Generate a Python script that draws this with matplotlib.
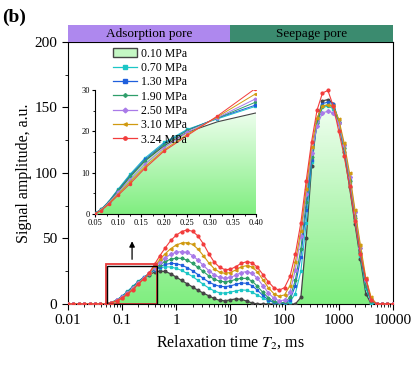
import numpy as np
import matplotlib
matplotlib.use("Agg")
import matplotlib.pyplot as plt
from matplotlib.patches import Rectangle, Patch
from matplotlib.lines import Line2D
from matplotlib.transforms import blended_transform_factory
from matplotlib.colors import LinearSegmentedColormap

plt.rcParams['font.family'] = ['Liberation Serif', 'DejaVu Serif']
plt.rcParams['mathtext.fontset'] = 'stix'

# T2 grid, ms (10 points per decade)
t2 = [0.01, 0.0126, 0.0158, 0.02, 0.0251, 0.0316, 0.0398, 0.0501, 0.0631, 0.0794,
      0.1, 0.126, 0.158, 0.2, 0.251, 0.316, 0.398, 0.501, 0.631, 0.794,
      1, 1.26, 1.58, 2.0, 2.51, 3.16, 3.98, 5.01, 6.31, 7.94,
      10, 12.6, 15.8, 20, 25.1, 31.6, 39.8, 50.1, 63.1, 79.4,
      100, 126, 158, 200, 251, 316, 398, 501, 631, 794,
      1000, 1259, 1585, 1995, 2512, 3162, 3981, 5012, 6310, 7943, 10000]

p010 = [0, 0, 0, 0, 0, 0, 0, 0.2, 1.0, 2.8,
        5.5, 9.0, 12.8, 16.5, 19.8, 22.3, 24.4, 25.1, 24.8, 23.0,
        20.5, 18.0, 15.5, 13.0, 10.5, 8.3, 6.3, 4.2, 2.8, 2.4,
        3.2, 3.9, 3.6, 2.2, 0.8, 0, 0, 0, 0, 0,
        0, 0, 0, 5, 50, 105, 140, 155, 156, 153,
        138, 116, 89, 61, 34, 8, 0, 0, 0, 0, 0]
p070 = [0, 0, 0, 0, 0, 0, 0, 0.2, 1.1, 3.0,
        6.0, 9.6, 13.5, 17.3, 20.5, 23.0, 26.0, 27.6, 28.4, 28.2,
        27.2, 25.6, 23.4, 21.0, 18.0, 15.0, 12.2, 10.0, 8.5, 8.3,
        9.0, 10.0, 10.7, 10.5, 9.0, 6.8, 4.5, 2.5, 1.2, 0.6,
        0.5, 1.5, 8, 25, 62, 108, 138, 150, 151, 149,
        138, 118, 92, 64, 37, 12, 1, 0, 0, 0, 0]
p130 = [0, 0, 0, 0, 0, 0, 0, 0.2, 1.1, 2.9,
        5.8, 9.3, 13.2, 17.0, 20.3, 23.2, 26.3, 28.6, 30.2, 31.0,
        30.8, 29.6, 27.8, 25.3, 22.5, 19.5, 16.8, 14.8, 13.5, 13.2,
        13.8, 15.0, 16.0, 15.8, 14.0, 10.5, 6.5, 3.3, 1.3, 0.5,
        0.6, 3, 14, 36, 72, 110, 139, 153, 154, 153,
        140, 120, 95, 67, 40, 14, 2, 0, 0, 0, 0]
p190 = [0, 0, 0, 0, 0, 0, 0, 0.2, 1.1, 2.9,
        5.7, 9.1, 12.9, 16.8, 20.2, 23.2, 27.0, 30.0, 32.5, 34.2,
        35.0, 34.8, 33.5, 31.0, 28.0, 24.8, 21.5, 19.0, 17.4, 17.0,
        17.6, 18.8, 19.6, 19.5, 17.5, 13.5, 8.8, 4.8, 2.2, 1.0,
        1.2, 5, 18, 42, 78, 112, 138, 151, 152, 151,
        139, 119, 94, 66, 39, 14, 2, 0, 0, 0, 0]
p250 = [0, 0, 0, 0, 0, 0, 0, 0.1, 1.0, 2.7,
        5.2, 8.3, 12.0, 16.0, 19.8, 23.3, 27.8, 31.8, 35.3, 38.0,
        39.5, 40.0, 39.3, 37.0, 33.5, 29.5, 25.5, 22.3, 20.3, 19.6,
        20.3, 22.0, 24.0, 24.7, 23.5, 19.5, 14.0, 8.5, 4.5, 2.5,
        3.0, 9, 26, 52, 84, 115, 136, 146, 147, 146,
        138, 121, 97, 70, 43, 18, 4, 0, 0, 0, 0]
p310 = [0, 0, 0, 0, 0, 0, 0, 0.1, 0.9, 2.5,
        4.8, 7.8, 11.4, 15.5, 19.3, 23.5, 29.0, 34.0, 38.5, 42.3,
        45.0, 46.5, 46.8, 45.5, 42.0, 37.0, 31.5, 27.0, 24.3, 23.4,
        24.0, 26.0, 28.3, 29.3, 28.3, 24.5, 18.5, 12.5, 8.0, 5.8,
        7.0, 14, 32, 56, 88, 120, 142, 151, 152, 151,
        141, 123, 100, 72, 45, 20, 5, 0, 0, 0, 0]
p324 = [0, 0, 0, 0, 0, 0, 0, 0.1, 0.8, 2.3,
        4.5, 7.3, 11.0, 15.2, 19.0, 23.7, 30.3, 37.0, 43.0, 48.5,
        52.5, 55.3, 56.5, 55.5, 52.0, 46.0, 38.5, 32.0, 28.0, 26.2,
        26.5, 28.5, 31.0, 32.3, 31.5, 28.0, 22.5, 17.0, 12.5, 10.5,
        12.5, 21, 38, 62, 94, 124, 148, 161, 163, 151,
        132, 113, 90, 63, 38, 19, 3, 0, 0, 0, 0]

labels = ['0.10 MPa', '0.70 MPa', '1.30 MPa', '1.90 MPa', '2.50 MPa', '3.10 MPa', '3.24 MPa']
series = [p070, p130, p190, p250, p310, p324]
colors = ['#1cc6c6', '#1f5fdc', '#2e9e6a', '#a97ae8', '#d09a10', '#f23c3c']
markers = ['s', 's', 'P', 'D', '<', 'o']

gray = '#454545'
green_cmap = LinearSegmentedColormap.from_list('g', ['#80ee80', '#f4fff4'])

fig = plt.figure(figsize=(4.14, 3.67), dpi=100)
ax = fig.add_axes([0.164, 0.1717, 0.785, 0.714])
ax.set_xscale('log')
ax.set_xlim(0.01, 10000)
ax.set_ylim(0, 200)
ax.set_autoscale_on(False)


def gradient_fill(a, x, y, ymax, blended):
    poly = a.fill_between(x, 0, y, facecolor='none', edgecolor='none')
    grad = np.linspace(0, 1, 256).reshape(-1, 1)
    if blended:
        tr = blended_transform_factory(a.transAxes, a.transData)
        im = a.imshow(grad, extent=(0, 1, 0, ymax), transform=tr, aspect='auto',
                      origin='lower', cmap=green_cmap, zorder=1)
    else:
        im = a.imshow(grad, extent=(x[0], x[-1], 0, ymax), aspect='auto',
                      origin='lower', cmap=green_cmap, zorder=1)
    im.set_clip_path(poly.get_paths()[0], a.transData)


gradient_fill(ax, t2, p010, max(p010), True)
ax.plot(t2, p010, color=gray, lw=0.9, marker='o', ms=1.9, zorder=3)
for s, c, m in zip(series, colors, markers):
    ax.plot(t2, s, color=c, lw=0.8, marker=m, ms=2.0, zorder=3)

ax.add_patch(Rectangle((0.05, 0), 0.40, 30.5, fill=False, edgecolor='#e83a3a', lw=1.3, zorder=4))
ax.add_patch(Rectangle((0.052, 0), 0.39, 29.3, fill=False, edgecolor='black', lw=1.0, zorder=4))
ax.annotate('', xy=(0.153, 50), xytext=(0.153, 32),
            arrowprops=dict(arrowstyle='-|>', color='black', lw=0.9, mutation_scale=8))

ax.set_yticks([0, 50, 100, 150, 200])
ax.set_yticks([25, 75, 125, 175], minor=True)
ax.set_xticks([0.01, 0.1, 1, 10, 100, 1000, 10000])
ax.set_xticklabels(['0.01', '0.1', '1', '10', '100', '1000', '10000'])
ax.tick_params(labelsize=11, direction='out', length=4)
ax.tick_params(which='minor', length=2)
ax.set_xlabel('Relaxation time $\\mathit{T}_2$, ms', fontsize=11.5)
ax.set_ylabel('Signal amplitude, a.u.', fontsize=11.5, labelpad=2)

# pore band above the axes
band = fig.add_axes([0.164, 0.8856, 0.785, 0.0463])
band.set_xscale('log')
band.set_xlim(0.01, 10000)
band.set_ylim(0, 1)
band.axvspan(0.01, 10, color='#ae88ee', lw=0)
band.axvspan(10, 10000, color='#3b8b6f', lw=0)
band.text(np.sqrt(0.01 * 10), 0.45, 'Adsorption pore', ha='center', va='center', fontsize=9.5)
band.text(np.sqrt(10 * 10000), 0.45, 'Seepage pore', ha='center', va='center', fontsize=9.5)
band.axis('off')

# inset
ins = fig.add_axes([0.2295, 0.4169, 0.389, 0.338])
ins.patch.set_alpha(0)
ins.set_xlim(0.05, 0.40)
ins.set_ylim(0, 30)
ins.set_autoscale_on(False)
gradient_fill(ins, t2, p010, 26, False)
ins.plot(t2, p010, color=gray, lw=0.8, zorder=3)
for s, c, m in zip(series, colors, markers):
    ins.plot(t2, s, color=c, lw=0.7, marker=m, ms=1.5, zorder=3)
ins.spines['top'].set_visible(False)
ins.spines['right'].set_visible(False)
ins.set_xticks([0.05, 0.10, 0.15, 0.20, 0.25, 0.30, 0.35, 0.40])
ins.set_xticklabels(['0.05', '0.10', '0.15', '0.20', '0.25', '0.30', '0.35', '0.40'])
ins.set_xticks(np.arange(0.075, 0.40, 0.05), minor=True)
ins.set_yticks([0, 10, 20, 30])
ins.set_yticks([5, 15, 25], minor=True)
ins.tick_params(labelsize=6, direction='out', length=2.5, pad=1)
ins.tick_params(which='minor', length=1.5)

handles = [Patch(facecolor='#c4f7c4', edgecolor=gray, lw=1.0)]
for c, m in zip(colors, markers):
    handles.append(Line2D([], [], color=c, lw=0.9, marker=m, ms=2.4))
fig.legend(handles, labels, loc='upper left', bbox_to_anchor=(0.252, 0.893),
           frameon=False, fontsize=8.5, handlelength=2.1, handletextpad=0.3,
           labelspacing=0.2, borderpad=0.2, handleheight=0.8)

fig.text(0.005, 0.975, '(b)', fontsize=14, fontweight='bold', va='top')

fig.savefig('out.png', dpi=100)
